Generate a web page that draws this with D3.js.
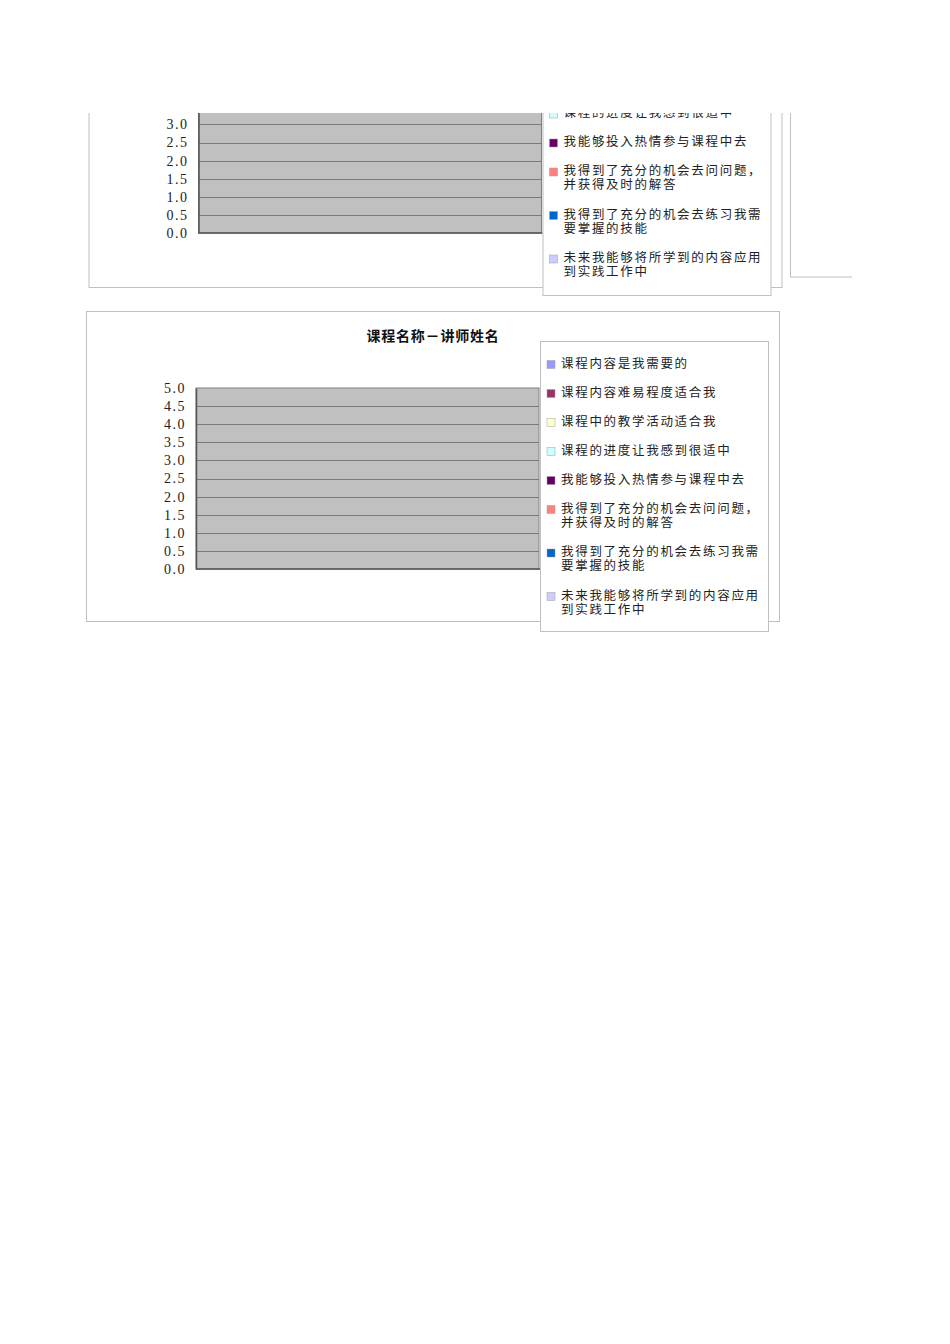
<!DOCTYPE html>
<html>
<head>
<meta charset="utf-8">
<script src="https://cdn.jsdelivr.net/npm/d3@7.9.0/dist/d3.min.js"></script>
<style>
  html, body { margin: 0; padding: 0; background: #fff; }
  svg { display: block; }
</style>
</head>
<body>
<div id="chart"></div>
<script>
const chartTitle = "课程名称－讲师姓名";
const categories = [""];
const seriesNames = [
  "课程内容是我需要的",
  "课程内容难易程度适合我",
  "课程中的教学活动适合我",
  "课程的进度让我感到很适中",
  "我能够投入热情参与课程中去",
  "我得到了充分的机会去问问题，并获得及时的解答",
  "我得到了充分的机会去练习我需要掌握的技能",
  "未来我能够将所学到的内容应用到实践工作中"
];
const seriesColors = ["#9999FF", "#993366", "#FFFFCC", "#CCFFFF", "#660066", "#FF8080", "#0066CC", "#CCCCFF"];
const seriesValues = [[0], [0], [0], [0], [0], [0], [0], [0]];
const yTicks = [0, 0.5, 1, 1.5, 2, 2.5, 3, 3.5, 4, 4.5, 5];

const width = 950, height = 1344;

const svg = d3.select("#chart")
  .append("svg")
  .attr("width", width)
  .attr("height", height)
  .attr("viewBox", `0 0 ${width} ${height}`);

// the upper copy is cut off by the page edge
svg.append("defs")
  .append("clipPath")
  .attr("id", "page-clip")
  .append("rect")
  .attr("x", 0)
  .attr("y", 113)
  .attr("width", 852)
  .attr("height", height - 113);

function wrapLabel(text, size = 14) {
  const lines = [];
  for (let i = 0; i < text.length; i += size) {
    lines.push(text.slice(i, i + size));
  }
  return lines;
}

function drawChart(g, { frameHeight = 310, showTitle = true, legendShift = 0 } = {}) {
  const frame = { x: 86.5, y: 311.5, width: 693, height: frameHeight };
  const plot = { left: 196, top: 388, right: 539, bottom: 569 };
  const legendBox = { x: 540.5, y: 341.5, width: 228, height: 290 };

  g.append("rect")
    .attr("x", frame.x)
    .attr("y", frame.y)
    .attr("width", frame.width)
    .attr("height", frame.height)
    .attr("fill", "#fff")
    .attr("stroke", "#c0c0c0");

  if (showTitle) {
    g.append("text")
      .attr("x", 433)
      .attr("y", 335)
      .attr("text-anchor", "middle")
      .attr("dominant-baseline", "central")
      .attr("font-family", "'Noto Sans CJK SC', sans-serif")
      .attr("font-weight", "bold")
      .attr("font-size", 14)
      .attr("letter-spacing", 0.8)
      .attr("fill", "#111")
      .text(chartTitle);
  }

  const x = d3.scaleBand()
    .domain(categories)
    .range([plot.left, plot.right])
    .paddingInner(0.5)
    .paddingOuter(0.25);

  const xSeries = d3.scaleBand()
    .domain(seriesNames)
    .range([0, x.bandwidth()]);

  const y = d3.scaleLinear()
    .domain([0, 5])
    .range([plot.bottom, plot.top]);

  g.append("rect")
    .attr("x", plot.left)
    .attr("y", plot.top)
    .attr("width", plot.right - plot.left)
    .attr("height", plot.bottom - plot.top)
    .attr("fill", "#c0c0c0")
    .attr("stroke", "#808080");

  g.append("g")
    .attr("class", "gridlines")
    .selectAll("line")
    .data(yTicks.filter((d) => d > 0 && d < 5))
    .join("line")
    .attr("x1", plot.left)
    .attr("x2", plot.right)
    .attr("y1", (d) => Math.round(y(d)) + 0.5)
    .attr("y2", (d) => Math.round(y(d)) + 0.5)
    .attr("stroke", "#7a7a7a");

  // bars (every value is zero in this sheet)
  seriesNames.forEach((name, i) => {
    g.append("g")
      .selectAll("rect")
      .data(seriesValues[i].map((v, j) => ({ category: categories[j], value: v })))
      .join("rect")
      .attr("x", (d) => x(d.category) + xSeries(name))
      .attr("y", (d) => y(d.value))
      .attr("width", xSeries.bandwidth())
      .attr("height", (d) => y(0) - y(d.value))
      .attr("fill", seriesColors[i])
      .attr("stroke", "#000")
      .attr("stroke-width", 0.5);
  });

  const yAxis = d3.axisLeft(y)
    .tickValues(yTicks)
    .tickFormat(d3.format(".1f"))
    .tickSize(0)
    .tickPadding(10);

  const axisG = g.append("g")
    .attr("transform", `translate(${plot.left},0)`)
    .call(yAxis);
  axisG.select(".domain").attr("stroke", "#555").attr("stroke-width", 1.5);
  axisG.selectAll("text")
    .attr("font-family", "'Liberation Serif', serif")
    .attr("font-size", 14)
    .attr("letter-spacing", 1.5)
    .attr("fill", "#222");

  g.append("line")
    .attr("x1", plot.left)
    .attr("x2", plot.right + 1)
    .attr("y1", plot.bottom)
    .attr("y2", plot.bottom)
    .attr("stroke", "#555")
    .attr("stroke-width", 1.5);

  // legend
  const legend = g.append("g").attr("class", "legend");
  legend.append("rect")
    .attr("x", legendBox.x)
    .attr("y", legendBox.y)
    .attr("width", legendBox.width)
    .attr("height", legendBox.height)
    .attr("fill", "#fff")
    .attr("stroke", "#c0c0c0");

  let itemY = legendBox.y + 22 + legendShift;
  seriesNames.forEach((name, i) => {
    const lines = wrapLabel(name);
    const item = legend.append("g");
    item.append("rect")
      .attr("x", 547)
      .attr("y", itemY - 3)
      .attr("width", 8)
      .attr("height", 8)
      .attr("fill", seriesColors[i])
      .attr("stroke", "#a0a0a0")
      .attr("stroke-width", 0.5);
    item.selectAll("text")
      .data(lines)
      .join("text")
      .attr("x", 561)
      .attr("y", (d, k) => itemY + k * 14)
      .attr("dominant-baseline", "central")
      .attr("font-family", "'Liberation Serif', 'Noto Sans CJK SC', serif")
      .attr("font-size", 12.5)
      .attr("letter-spacing", 1.7)
      .attr("fill", "#222")
      .text((d) => d);
    itemY += 29 + (lines.length - 1) * 14.5;
  });
}

// upper page segment: previous chart and the edge of the next one
const upper = svg.append("g").attr("clip-path", "url(#page-clip)");
upper.append("rect")
  .attr("x", 790.5)
  .attr("y", -50)
  .attr("width", 200)
  .attr("height", 327)
  .attr("fill", "#fff")
  .attr("stroke", "#c0c0c0");
drawChart(upper.append("g").attr("transform", "translate(2.5,-336)"), { frameHeight: 312, showTitle: false, legendShift: -1.5 });

drawChart(svg.append("g"));
</script>
</body>
</html>
